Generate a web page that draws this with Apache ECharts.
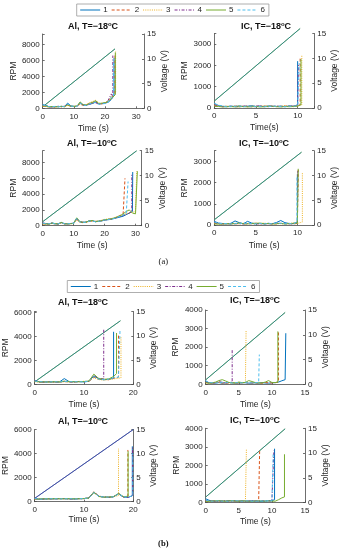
<!DOCTYPE html>
<html><head><meta charset="utf-8">
<script src="https://cdn.jsdelivr.net/npm/echarts@6/dist/echarts.min.js"></script>
<style>html,body{margin:0;padding:0;background:#fff}#c{width:345px;height:550px}</style>
</head><body><div id="c"></div>
<script>
// ---------- DATA ----------
const legendNames = ['1','2','3','4','5','6'];
// (a) Al, T=-18
const a1_t = [0,1,2,3,4,5,6,7,8,9,10,11,12,13,14,15,16,17,18,19,20,21,22];
const a1_r1 = [450,350,200,180,220,190,250,210,650,300,240,260,700,420,380,520,600,800,550,600,650,750,1100];
const a1_r2 = [300,250,180,200,170,230,200,260,400,280,220,300,550,380,420,650,700,900,600,550,700,800,1300];
const a1_r3 = [250,220,150,210,190,180,230,200,350,250,260,280,500,350,450,700,850,1000,650,620,680,900,1500];
const a1_r4 = [380,300,220,170,200,250,180,240,500,230,210,250,600,400,350,500,650,700,500,580,620,1000,1800];
const a1_r5 = [350,280,190,230,180,210,240,190,450,260,230,270,800,450,400,600,750,950,600,640,700,850,1200];
const a1_r6 = [420,330,210,190,240,200,220,230,550,270,250,240,650,380,360,550,620,750,520,560,600,780,1400];
const a1_spikeT = [22.9,23.2,23.4,22.5,23.3,22.7];
const a1_pre = [1600,1800,2000,1500,1700,1400];
const a1_peak = [6300,6800,7100,6600,7000,6000];
const a1_voltT = [0,23.2];
const a1_volt = [0.3,12.0];
// (a) IC, T=-18
const a2_t = [0,0.5,1,1.5,2,2.5,3,3.5,4,4.5,5,5.5,6,6.5,7,7.5,8,8.5,9,9.5,10];
const a2_r1 = [200,120,80,60,90,70,100,60,80,110,70,90,60,100,80,70,90,60,100,80,120];
const a2_r2 = [150,100,60,80,70,90,60,80,100,70,60,80,90,70,100,60,80,90,70,100,90];
const a2_r3 = [120,80,70,90,60,80,110,70,60,90,80,70,100,90,60,80,70,110,80,60,100];
const a2_r4 = [100,90,60,70,80,60,70,90,80,60,90,100,70,60,80,90,60,70,90,80,110];
const a2_r5 = [80,70,50,60,70,50,60,70,50,60,70,50,60,70,80,60,50,70,60,70,90];
const a2_r6 = [220,130,90,70,60,80,90,70,100,80,60,70,80,60,90,80,70,60,80,90,110];
const a2_spikeT = [10.0,10.3,10.5,10.1,10.4,10.2];
const a2_pre = [150,150,150,150,150,150];
const a2_peak = [2200,2400,2500,2100,2300,2100];
const a2_voltT = [0,10.3];
const a2_volt = [1.4,16.0];
// (a) Al, T=-10
const a3_t = [0,1,2,3,4,5,6,7,8,9,10,11,12,13,14,15,16,17,18,19,20,21,22,23,24,25,26,27,28,29,30];
const a3_r1 = [300,250,200,350,250,200,400,250,220,280,300,950,500,420,450,600,650,500,550,600,700,750,800,900,1000,1100,1200,1400,1600,1800];
const a3_r2 = [250,200,230,300,220,260,350,230,240,260,280,800,450,400,420,550,600,520,580,650,750,800,850,950,1100,1300,1500];
const a3_r3 = [200,220,180,280,240,230,300,260,230,250,270,700,420,380,430,520,580,560,600,700,800,850,900,1000,1150,1250,1400,1500,1650,1700,1800];
const a3_r4 = [350,280,250,320,260,240,380,270,250,270,310,850,480,440,460,580,620,540,560,620,720,780,820,920,1050,1150,1300,1450,1600];
const a3_r5 = [280,230,210,330,270,220,420,240,230,260,290,1000,520,430,440,620,660,520,570,630,760,800,850,950,1100,1250,1500,1800,2000,1600,1500];
const a3_r6 = [320,260,240,310,230,250,360,260,240,270,290,900,470,410,440,570,610,500,560,610,740,770,830,920,1050,1200,1350,1500];
const a3_spikeT = [29.1,26.6,30.4,28.8,30.6,27.6];
const a3_pre = [2000,1700,1900,1800,1600,1700];
const a3_peak = [6800,6000,6900,6600,6900,5600];
const a3_voltT = [0,30.4];
const a3_volt = [0.8,15.0];
// (a) IC, T=-10
const a4_t = [0,0.5,1,1.5,2,2.5,3,3.5,4,4.5,5,5.5,6,6.5,7,7.5,8,8.5,9,9.5,10];
const a4_r1 = [180,100,80,60,90,200,120,70,180,100,70,80,60,90,70,130,220,120,80,70,90];
const a4_r2 = [100,70,60,80,70,60,90,70,60,80,90,70,60,80,70,60,90,80,70,60,80];
const a4_r3 = [80,60,70,60,80,70,60,90,80,70,60,80,100,70,60,80,70,60,90,100,80];
const a4_r4 = [120,80,60,70,60,80,70,60,80,70,60,70,80,60,70,90,80,70,60,80,90];
const a4_r5 = [60,50,60,70,60,80,100,70,60,80,90,100,70,80,60,70,80,60,70,90,100];
const a4_r6 = [150,90,70,80,60,70,90,80,100,70,60,80,70,60,80,100,90,70,80,60,90];
const a4_spikeT = [10.0,10.1,10.6,10.05,10.1,9.95];
const a4_pre = [150,150,150,150,150,150];
const a4_peak = [2400,2600,2500,2550,2650,2300];
const a4_voltT = [0,10.5];
const a4_volt = [1.1,14.7];
// (b) Al, T=-18
const b1_t = [0,1,2,3,4,5,6,7,8,9,10,11,12,13,14,15,16,17];
const b1_r1 = [300,200,180,220,200,190,480,220,210,230,200,250,700,450,380,420];
const b1_r2 = [250,180,200,190,210,180,230,200,190,220,240,230,600,420,400,380,500];
const b1_r3 = [220,190,170,200,180,200,210,190,230,210,250,240,550,400,350,400,450,500];
const b1_r4 = [280,210,190,210,190,200,250,210,200,240,220,260,750,500];
const b1_r5 = [260,200,210,190,220,200,260,230,210,220,230,270,850,480,420,450,650];
const b1_r6 = [270,220,190,200,210,190,240,210,220,200,230,250,650,430,390,420,550,600];
const b1_spikeT = [16.0,17.0,17.5,14.0,16.6,17.3];
const b1_pre = [500,600,550,450,900,700];
const b1_peak = [4400,4100,4000,4600,4300,4500];
const b1_voltT = [0,17.4];
const b1_volt = [0.5,13.1];
// (b) IC, T=-18
const b2_t = [0,0.5,1,1.5,2,2.5,3,3.5,4,4.5,5,5.5,6,6.5,7,7.5,8,8.5,9,9.5,10,10.5,11,11.5,12];
const b2_r1 = [150,80,60,70,90,60,70,100,80,60,70,90,80,60,70,80,60,90,70,60,80,90,120,190,250];
const b2_r2 = [100,70,60,80,120,70,60,80,90,70,60,80,100,70,60,80,70,60,90,80,70,90];
const b2_r3 = [80,60,70,90,100,80,70,60,80,70,90,80,100];
const b2_r4 = [120,80,90,70,150,100,80,90];
const b2_r5 = [90,60,80,120,200,250,180,100,80,70,120,90,100,200,150,90,80,70,120,200,100,90];
const b2_r6 = [200,100,80,70,90,110,80,100,70,80,90,70,120,80,70,90,100];
const b2_spikeT = [12.1,11.0,6.1,4.0,10.9,8.1];
const b2_pre = [260,120,120,120,120,120];
const b2_peak = [2750,2850,2900,1900,2850,1600];
const b2_voltT = [0,12.0];
const b2_volt = [0.9,14.5];
// (b) Al, T=-10
const b3_t = [0,1,2,3,4,5,6,7,8,9,10,11,12,13,14,15,16,17,18,19];
const b3_r1 = [250,200,220,240,230,260,250,240,220,250,260,300,780,450,380,360,420,650,380,360];
const b3_r2 = [230,210,240,220,250,240,260,230,240,260,250,320,820,460,390,370,400,700,400];
const b3_r3 = [260,230,210,260,240,250,230,260,250,240,270,310,760,430,370,380,430];
const b3_r4 = [280,220,230,250,240,250,260,230,230,260,250,330,800,470,400,370,410,680,390,370];
const b3_r5 = [240,220,250,230,260,240,250,250,240,250,260,300,790,440,380,390,420,690,420];
const b3_r6 = [270,210,230,240,250,230,240,250,230,240,270,310,770,440,390,380,400,660,410,380];
const b3_spikeT = [19.8,18.9,17.0,19.85,18.95,19.9];
const b3_pre = [500,450,500,500,450,500];
const b3_peak = [4600,4300,4400,4500,4200,4000];
const b3_voltT = [0,20.0];
const b3_volt = [0.7,15.0];
// (b) IC, T=-10
const b4_t = [0,0.5,1,1.5,2,2.5,3,3.5,4,4.5,5,5.5,6,6.5,7,7.5,8,8.5,9,9.5,10,10.5,11,11.5,12];
const b4_r1 = [200,120,80,70,90,80,70,100,90,80,70,90,80,70,90,80,70,60,80,90,100];
const b4_r2 = [90,70,80,60,90,70,80,60,100,80,70,90,80,70,60,80,90];
const b4_r3 = [80,70,60,90,70,80,60,70,90,80,70,60,80];
const b4_r4 = [110,80,90,70,60,80,100,70,80,90,70,80,60,80,90,70,80,100,70,80,90];
const b4_r5 = [70,60,80,90,100,80,70,90,100,80,70,90,80,70,60,80,90,80,70,90,80,70,150,250];
const b4_r6 = [130,90,70,80,90,70,80,60,90,100,80,70,90,80,70,60,90,80,70,100,90];
const b4_spikeT = [10.4,8.15,6.15,10.3,11.9,10.2];
const b4_pre = [150,150,120,150,300,150];
const b4_peak = [2900,2800,2900,2800,2600,2700];
const b4_voltT = [0,12.0];
const b4_volt = [1.1,14.9];

// ---------- STYLE / LAYOUT ----------
const FONT = 'Liberation Sans';
const AX = '#4a4a4a';
const TXT = '#262626';
const C = ['#0072BD','#D95319','#EDB120','#7E2F8E','#77AC30','#4DBEEE'];
const DASH = ['solid',[3,2],[1,1.2],[3,1.5,1,1.5],'solid',[3,2]];

const panelData = [
  {t:a1_t, r:[a1_r1,a1_r2,a1_r3,a1_r4,a1_r5,a1_r6], sT:a1_spikeT, pre:a1_pre, pk:a1_peak, vT:a1_voltT, v:a1_volt},
  {t:a2_t, r:[a2_r1,a2_r2,a2_r3,a2_r4,a2_r5,a2_r6], sT:a2_spikeT, pre:a2_pre, pk:a2_peak, vT:a2_voltT, v:a2_volt},
  {t:a3_t, r:[a3_r1,a3_r2,a3_r3,a3_r4,a3_r5,a3_r6], sT:a3_spikeT, pre:a3_pre, pk:a3_peak, vT:a3_voltT, v:a3_volt},
  {t:a4_t, r:[a4_r1,a4_r2,a4_r3,a4_r4,a4_r5,a4_r6], sT:a4_spikeT, pre:a4_pre, pk:a4_peak, vT:a4_voltT, v:a4_volt},
  {t:b1_t, r:[b1_r1,b1_r2,b1_r3,b1_r4,b1_r5,b1_r6], sT:b1_spikeT, pre:b1_pre, pk:b1_peak, vT:b1_voltT, v:b1_volt},
  {t:b2_t, r:[b2_r1,b2_r2,b2_r3,b2_r4,b2_r5,b2_r6], sT:b2_spikeT, pre:b2_pre, pk:b2_peak, vT:b2_voltT, v:b2_volt},
  {t:b3_t, r:[b3_r1,b3_r2,b3_r3,b3_r4,b3_r5,b3_r6], sT:b3_spikeT, pre:b3_pre, pk:b3_peak, vT:b3_voltT, v:b3_volt},
  {t:b4_t, r:[b4_r1,b4_r2,b4_r3,b4_r4,b4_r5,b4_r6], sT:b4_spikeT, pre:b4_pre, pk:b4_peak, vT:b4_voltT, v:b4_volt},
];

const layout = [
  {title:'Al, T=−18', g:[42.7,34,101.3,74.3], xMax:32.5, xInt:10, yMax:9300, yInt:2000, xName:'Time (s)', rg:24, vg:14.5, tg:15.5, tc:[93,26.5], vc:['#77AC30','#0072BD'], clip:true},
  {title:'IC, T=−18', g:[214.3,33.5,100,74.5], xMax:12, xInt:5, yMax:3500, yInt:1000, xName:'Time(s)', rg:19, vg:15.5, tg:15.5, tc:[266,26.5], vc:['#77AC30','#0072BD'], clip:false},
  {title:'Al, T=−10', g:[42.7,150.7,99,75], xMax:32, xInt:10, yMax:9500, yInt:2000, xName:'Time (s)', rg:24, vg:16.5, tg:15, tc:[92,143.5], vc:['#77AC30','#0072BD'], clip:true},
  {title:'IC, T=−10', g:[214.3,150.7,99.7,74.5], xMax:12, xInt:5, yMax:3500, yInt:1000, xName:'Time (s)', rg:20.5, vg:15.5, tg:15.5, tc:[264,144], vc:['#77AC30','#0072BD'], clip:true},
  {title:'Al, T=−18', g:[33.3,311.5,100,72.8], xMax:20, xInt:10, yMax:6100, yInt:2000, xName:'Time (s)', rg:20.5, vg:15, tg:16, tc:[83,302.5], vc:['#77AC30','#0072BD'], clip:true},
  {title:'IC, T=−18', g:[205.7,310,99.3,74.3], xMax:15, xInt:5, yMax:4000, yInt:1000, xName:'Time (s)', rg:25.5, vg:14.5, tg:16, tc:[255,301], vc:['#77AC30','#0072BD'], clip:true},
  {title:'Al, T=−10', g:[33.3,429.5,100,72.2], xMax:20, xInt:10, yMax:6000, yInt:2000, xName:'Time (s)', rg:19.5, vg:13.5, tg:13.5, tc:[83,421.5], vc:['#0072BD','#7E2F8E'], clip:true},
  {title:'IC, T=−10', g:[205.7,428.3,99.3,74.2], xMax:15, xInt:5, yMax:4000, yInt:1000, xName:'Time (s)', rg:22, vg:14, tg:15, tc:[255,420.5], vc:['#77AC30','#0072BD'], clip:true},
];

function rpmData(t, vals, sT, pre, pk) {
  const d = [];
  const n = Math.min(t.length, vals.length);
  for (let i = 0; i < n; i++) if (t[i] < sT) d.push([t[i], vals[i]]);
  d.push([sT, pre]);
  d.push([sT, pk]);
  return d;
}

const grids = [], xAxes = [], yAxes = [], series = [], titles = [];
const lab = {fontSize:8, color:TXT, fontFamily:FONT};
layout.forEach((L, p) => {
  grids.push({left:L.g[0], top:L.g[1], width:L.g[2], height:L.g[3], containLabel:false});
  xAxes.push({gridIndex:p, type:'value', min:0, max:L.xMax, interval:L.xInt,
    axisLine:{show:true, onZero:false, lineStyle:{color:AX, width:0.8}},
    axisTick:{show:true, inside:true, length:2, lineStyle:{color:AX, width:0.8}},
    axisLabel:Object.assign({margin:4, formatter:v => (Math.abs(v % L.xInt) < 1e-9 ? String(v) : '')}, lab),
    splitLine:{show:false},
    name:L.xName, nameLocation:'middle', nameGap:L.tg,
    nameTextStyle:{fontSize:8.5, color:TXT, fontFamily:FONT}});
  yAxes.push({gridIndex:p, type:'value', position:'left', min:0, max:L.yMax, interval:L.yInt,
    axisLine:{show:true, onZero:false, lineStyle:{color:AX, width:0.8}},
    axisTick:{show:true, inside:true, length:2, lineStyle:{color:AX, width:0.8}},
    axisLabel:Object.assign({margin:3, formatter:v => (v % L.yInt === 0 ? String(v) : '')}, lab),
    splitLine:{show:false},
    name:'RPM', nameLocation:'middle', nameGap:L.rg, nameRotate:90,
    nameTextStyle:{fontSize:8.5, color:TXT, fontFamily:FONT}});
  yAxes.push({gridIndex:p, type:'value', position:'right', min:0, max:15, interval:5,
    axisLine:{show:true, onZero:false, lineStyle:{color:AX, width:0.8}},
    axisTick:{show:true, inside:true, length:2, lineStyle:{color:AX, width:0.8}},
    axisLabel:Object.assign({margin:3}, lab),
    splitLine:{show:false},
    name:'Voltage (V)', nameLocation:'middle', nameGap:L.vg, nameRotate:90,
    nameTextStyle:{fontSize:8.5, color:TXT, fontFamily:FONT}});
  titles.push({text:'{b|' + L.title + '}{s|o}{b|C}', left:L.tc[0], top:L.tc[1] - 5.5, textAlign:'center', padding:0,
    textStyle:{rich:{
      b:{fontFamily:FONT, fontWeight:'bold', fontSize:9, color:'#111', lineHeight:11},
      s:{fontFamily:FONT, fontWeight:'bold', fontSize:6, color:'#111', lineHeight:7, verticalAlign:'top'}}}});
  const D = panelData[p];
  L.vc.forEach((col, j) => {
    series.push({type:'line', name:'V' + j, xAxisIndex:p, yAxisIndex:2 * p + 1,
      data:D.vT.map((tt, i) => [tt, D.v[i]]), symbol:'none', showSymbol:false, clip:L.clip, silent:true,
      lineStyle:{color:col, width:1, opacity:j === 0 ? 1 : 0.6}, itemStyle:{color:col}, z:1});
  });
  for (let k = 0; k < 6; k++) {
    series.push({type:'line', name:legendNames[k], xAxisIndex:p, yAxisIndex:2 * p,
      data:rpmData(D.t, D.r[k], D.sT[k], D.pre[k], D.pk[k]),
      symbol:'none', showSymbol:false, silent:true,
      lineStyle:{color:C[k], width:1, type:DASH[k]}, itemStyle:{color:C[k]}, z:2 + k});
  }
});

titles.push({text:'(a)', left:163.3, top:257, textAlign:'center', padding:0,
  textStyle:{fontFamily:'Liberation Serif', fontSize:8.5, fontWeight:'normal', color:'#111'}});
titles.push({text:'(b)', left:163.3, top:539, textAlign:'center', padding:0,
  textStyle:{fontFamily:'Liberation Serif', fontSize:8.5, fontWeight:'bold', color:'#111'}});

const legendBase = {
  data:legendNames, orient:'horizontal', itemWidth:20, itemHeight:8, itemGap:3.5,
  padding:[2,4,2,3], borderColor:'#9a9a9a', borderWidth:0.8, backgroundColor:'#fff',
  textStyle:{fontSize:8, color:TXT, fontFamily:FONT, padding:[0,0,0,-2]},
  itemStyle:{opacity:0}, lineStyle:{width:1}, selectedMode:false
};
const chart = echarts.init(document.getElementById('c'), null, {renderer:'canvas'});
chart.setOption({
  animation:false,
  backgroundColor:'#fff',
  title:titles,
  legend:[Object.assign({left:76.7, top:4}, legendBase), Object.assign({left:67.3, top:280.5}, legendBase)],
  grid:grids, xAxis:xAxes, yAxis:yAxes, series:series
});
</script></body></html>
